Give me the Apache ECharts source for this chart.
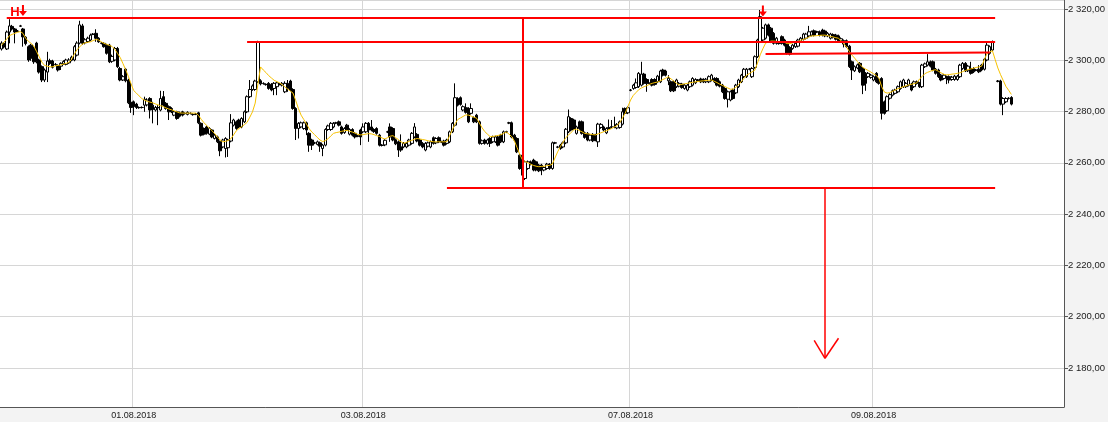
<!DOCTYPE html>
<html>
<head>
<meta charset="utf-8">
<script src="https://cdn.jsdelivr.net/npm/echarts@6/dist/echarts.min.js"></script>
<style>
html, body { margin: 0; padding: 0; background: #f3f3f3; }
#main { width: 1108px; height: 422px; }
</style>
</head>
<body>
<div id="main"></div>
<script>
// 15-min bars, one category slot per bar
const slotCount = 394;
const dayStart = [49, 134, 233, 323];
const dayLabels = ['01.08.2018', '03.08.2018', '07.08.2018', '09.08.2018'];

// [open, close, low, high]
const candles = [
  [2304.4,2306.7,2303.8,2307.4],[2306.6,2305.2,2304.6,2307.0],[2304.4,2311.0,2304.0,2311.6],[2311.0,2313.4,2306.6,2316.0],[2313.2,2312.2,2311.6,2313.8],
  [2312.2,2311.0,2306.6,2312.6],[2311.4,2311.3,2311.0,2311.8],[2313.4,2313.3,2313.0,2313.8],[2312.2,2309.1,2305.3,2312.6],[2309.0,2306.5,2305.8,2309.4],
  [2305.3,2300.1,2299.4,2305.8],[2305.9,2300.8,2299.8,2306.4],[2304.8,2299.4,2298.6,2305.4],[2306.7,2299.4,2298.8,2307.2],[2300.1,2295.4,2294.8,2300.6],
  [2297.5,2292.3,2291.5,2298.0],[2292.3,2296.2,2291.5,2296.8],[2295.4,2299.7,2291.5,2303.3],[2299.8,2298.8,2298.2,2300.6],[2299.7,2297.3,2296.8,2300.2],
  [2298.4,2298.3,2297.9,2298.9],[2297.9,2296.2,2295.6,2298.4],[2297.7,2298.8,2296.2,2299.2],[2298.6,2299.5,2298.2,2300.0],[2298.4,2300.1,2298.0,2300.6],
  [2299.0,2300.1,2298.6,2300.8],[2300.0,2301.2,2299.6,2301.8],[2300.1,2305.3,2299.6,2305.9],[2302.0,2306.7,2301.5,2307.4],[2306.7,2313.8,2306.2,2315.4],
  [2313.4,2306.6,2306.0,2314.2],[2306.8,2308.0,2306.2,2308.6],[2307.3,2308.6,2306.8,2309.2],[2307.9,2309.8,2307.4,2310.4],[2310.2,2310.1,2309.8,2310.6],
  [2310.5,2308.6,2307.2,2312.1],[2308.6,2307.2,2306.8,2309.0],[2306.7,2306.6,2306.2,2307.1],[2306.6,2305.3,2304.9,2307.0],[2305.9,2302.7,2302.2,2306.4],
  [2305.9,2299.4,2298.9,2306.4],[2299.6,2301.5,2299.0,2302.2],[2300.1,2304.6,2299.6,2305.2],[2304.6,2297.5,2297.0,2305.2],[2296.8,2292.3,2291.8,2297.4],
  [2292.3,2293.6,2291.9,2294.2],[2296.5,2292.0,2291.4,2297.0],[2292.3,2283.4,2282.9,2292.8],[2283.6,2281.6,2279.5,2291.5],[2283.8,2281.9,2278.6,2284.3],
  [2282.9,2281.6,2281.0,2283.4],[2281.6,2281.5,2281.1,2282.0],[2281.6,2281.6,2281.2,2282.0],[2282.5,2284.8,2279.9,2285.8],[2282.6,2284.5,2282.0,2285.2],
  [2285.1,2280.6,2277.3,2285.6],[2282.5,2280.8,2275.4,2283.8],[2280.6,2281.6,2280.0,2282.2],[2281.6,2281.5,2274.7,2282.5],[2280.6,2285.1,2280.1,2288.1],
  [2285.8,2282.5,2282.0,2288.0],[2283.2,2281.2,2280.7,2283.7],[2281.9,2279.9,2276.7,2282.4],[2281.2,2279.9,2279.4,2281.7],[2278.6,2279.9,2278.2,2280.4],
  [2279.9,2277.3,2276.8,2280.3],[2279.5,2278.2,2277.7,2280.0],[2279.9,2278.6,2278.1,2280.3],[2279.3,2279.2,2278.8,2279.7],[2278.9,2279.7,2278.5,2280.1],
  [2279.3,2279.3,2278.9,2279.7],[2278.9,2278.8,2278.4,2279.3],[2279.0,2279.0,2278.6,2279.4],[2279.5,2275.6,2275.1,2279.9],[2275.4,2270.8,2270.3,2275.8],
  [2273.4,2271.2,2270.7,2273.8],[2274.0,2271.5,2271.0,2274.5],[2271.2,2273.4,2270.8,2273.9],[2272.8,2270.1,2269.6,2273.2],[2269.5,2270.8,2269.1,2271.3],
  [2270.1,2268.2,2267.7,2270.6],[2268.2,2264.7,2262.6,2268.7],[2266.2,2268.9,2265.7,2269.4],[2265.6,2269.5,2262.1,2270.0],[2265.9,2268.9,2262.3,2269.4],
  [2268.5,2275.6,2268.0,2279.0],[2274.7,2276.7,2274.2,2277.2],[2276.0,2273.4,2272.9,2276.5],[2276.7,2274.0,2273.5,2277.2],[2274.0,2277.3,2273.5,2277.8],
  [2276.0,2279.9,2275.5,2280.4],[2279.9,2285.8,2279.4,2286.3],[2285.8,2288.6,2285.3,2292.3],[2288.6,2290.0,2288.1,2290.6],[2288.6,2291.9,2288.1,2292.4],
  [2291.6,2307.2,2291.1,2307.6],[2292.0,2290.8,2290.2,2292.6],[2291.0,2290.9,2290.5,2291.4],[2290.6,2290.5,2290.1,2291.0],[2291.0,2289.0,2288.5,2291.5],
  [2290.6,2288.4,2287.9,2291.1],[2289.0,2291.0,2286.4,2291.5],[2289.7,2291.2,2286.4,2291.7],[2290.7,2290.6,2290.2,2291.1],[2290.3,2291.0,2289.8,2291.5],
  [2287.7,2291.0,2287.2,2291.8],[2291.0,2289.0,2287.7,2292.3],[2291.9,2288.4,2287.9,2292.4],[2288.6,2281.2,2280.7,2289.1],[2281.2,2273.4,2268.9,2281.7],
  [2273.4,2275.4,2269.5,2275.9],[2274.0,2275.6,2273.5,2276.1],[2273.4,2275.6,2272.9,2276.1],[2275.6,2272.8,2270.8,2276.1],[2271.5,2266.9,2264.3,2272.0],
  [2268.9,2266.9,2265.0,2269.4],[2267.8,2267.7,2267.3,2268.2],[2267.2,2268.2,2266.8,2268.7],[2267.8,2266.5,2264.3,2268.3],[2265.6,2266.9,2262.6,2267.4],
  [2266.9,2273.0,2266.4,2273.5],[2273.0,2274.4,2272.5,2274.9],[2273.0,2275.4,2272.5,2275.9],[2274.0,2275.4,2273.5,2275.9],[2275.6,2275.5,2275.1,2276.0],
  [2276.0,2274.7,2274.2,2276.5],[2274.0,2271.5,2271.0,2274.5],[2271.8,2273.4,2271.3,2273.9],[2274.7,2273.0,2272.5,2275.2],[2271.2,2273.0,2270.7,2273.5],
  [2273.0,2270.8,2270.3,2273.5],[2271.5,2270.1,2269.5,2272.0],[2270.5,2270.4,2270.0,2270.9],[2272.8,2270.1,2266.9,2273.3],[2272.1,2274.0,2271.6,2275.4],
  [2272.1,2275.4,2271.6,2275.9],[2275.4,2272.8,2268.2,2275.9],[2274.0,2272.8,2272.3,2276.7],[2273.0,2272.2,2271.7,2273.5],[2273.4,2271.5,2271.0,2273.9],
  [2270.8,2266.9,2266.4,2271.3],[2266.9,2266.8,2266.4,2267.3],[2267.0,2268.8,2266.5,2269.3],[2272.1,2272.0,2271.6,2272.5],[2274.0,2270.1,2268.2,2275.4],
  [2273.4,2268.9,2268.4,2273.9],[2269.0,2267.4,2266.9,2269.5],[2268.2,2265.0,2262.3,2268.7],[2266.2,2265.0,2264.3,2271.1],[2266.2,2267.6,2265.7,2268.1],
  [2266.2,2267.6,2265.7,2268.1],[2266.9,2268.9,2266.4,2269.4],[2267.6,2271.5,2267.1,2272.0],[2270.1,2274.0,2269.6,2275.5],[2271.1,2268.5,2268.0,2271.6],
  [2268.9,2266.9,2266.4,2269.4],[2267.6,2266.2,2265.7,2268.1],[2265.0,2267.6,2264.5,2268.1],[2266.5,2267.8,2266.0,2268.3],[2266.2,2268.2,2265.7,2268.7],
  [2269.8,2267.6,2267.1,2270.3],[2267.8,2269.5,2267.3,2270.0],[2269.8,2268.2,2267.7,2270.3],[2268.2,2268.1,2267.7,2268.6],[2268.5,2266.9,2266.4,2269.0],
  [2267.6,2268.9,2267.1,2269.4],[2268.2,2272.1,2267.7,2272.6],[2272.1,2275.4,2271.6,2275.9],[2274.7,2285.4,2274.2,2291.0],[2285.1,2282.5,2282.0,2285.6],
  [2285.4,2282.8,2282.3,2285.9],[2280.6,2281.9,2280.1,2282.4],[2281.5,2279.7,2279.2,2283.2],[2281.2,2276.0,2275.5,2281.7],[2279.3,2281.2,2278.8,2283.2],
  [2277.6,2276.0,2275.5,2278.1],[2278.6,2276.0,2275.5,2279.1],[2276.0,2267.6,2267.1,2276.5],[2267.6,2268.6,2267.1,2269.1],[2268.9,2267.6,2267.1,2269.4],
  [2267.6,2268.9,2267.1,2269.4],[2269.5,2267.6,2266.2,2270.0],[2268.2,2270.1,2267.7,2270.6],[2268.2,2270.1,2267.7,2270.6],[2270.1,2266.9,2266.4,2270.6],
  [2270.8,2268.2,2267.7,2271.3],[2268.2,2272.1,2267.7,2272.6],[2272.1,2272.0,2271.6,2272.5],[2275.6,2275.5,2275.1,2276.0],[2275.6,2270.1,2269.6,2276.1],
  [2270.8,2268.9,2268.4,2271.3],[2269.5,2264.3,2263.8,2270.0],[2263.0,2257.8,2257.3,2263.5],[2257.8,2255.2,2250.1,2258.3],[2253.9,2260.4,2253.3,2260.9],
  [2257.8,2260.4,2257.3,2260.9],[2260.4,2259.5,2259.0,2260.9],[2261.1,2257.2,2256.7,2261.6],[2260.4,2257.2,2256.7,2260.9],[2259.1,2256.9,2256.4,2259.6],
  [2259.1,2257.2,2255.2,2259.6],[2257.2,2258.2,2256.7,2258.7],[2257.8,2259.5,2257.3,2260.0],[2259.4,2257.8,2257.3,2259.9],[2257.8,2267.8,2257.3,2268.3],
  [2267.8,2267.7,2267.3,2268.2],[2266.2,2266.1,2265.7,2266.6],[2266.9,2265.6,2265.1,2267.4],[2266.2,2267.8,2265.7,2268.3],[2267.8,2273.1,2267.3,2273.6],
  [2272.1,2278.0,2271.6,2280.8],[2277.3,2272.8,2272.3,2277.8],[2276.7,2273.4,2272.9,2277.2],[2271.5,2274.0,2271.0,2274.5],[2276.0,2273.4,2272.9,2276.5],
  [2276.0,2271.5,2271.0,2276.5],[2271.7,2269.9,2269.4,2272.2],[2271.5,2268.9,2268.4,2272.0],[2268.9,2270.8,2268.4,2271.3],[2271.1,2268.6,2268.1,2271.6],
  [2270.8,2268.9,2268.4,2271.3],[2268.2,2275.1,2266.2,2275.6],[2273.8,2275.0,2273.3,2275.5],[2274.0,2272.8,2272.3,2274.5],[2271.7,2273.4,2271.2,2273.9],
  [2273.4,2273.8,2273.0,2276.9],[2274.0,2274.1,2273.5,2276.7],[2274.0,2274.0,2273.5,2278.0],[2273.6,2275.0,2273.1,2275.5],[2273.8,2276.0,2273.3,2276.5],
  [2275.1,2279.9,2274.6,2281.5],[2281.2,2279.3,2278.8,2281.6],[2279.5,2281.5,2279.0,2282.0],[2288.4,2288.3,2287.9,2288.8],[2289.0,2290.3,2288.5,2290.8],
  [2289.4,2291.2,2288.9,2292.9],[2289.7,2294.9,2289.2,2295.4],[2290.3,2294.6,2289.8,2299.4],[2294.6,2291.0,2290.5,2295.1],[2292.5,2291.0,2287.7,2293.0],
  [2291.0,2290.9,2290.5,2291.4],[2292.5,2290.3,2289.8,2293.0],[2292.5,2290.6,2290.1,2293.0],[2291.6,2293.8,2291.1,2294.3],[2291.6,2295.8,2291.1,2296.3],
  [2296.2,2294.2,2293.7,2296.7],[2295.8,2294.2,2293.7,2296.3],[2292.0,2293.0,2290.3,2294.2],[2291.6,2288.1,2287.6,2292.1],[2291.6,2288.1,2287.6,2292.1],
  [2289.7,2292.3,2289.2,2292.8],[2289.9,2291.0,2289.4,2291.5],[2290.7,2289.4,2288.9,2291.2],[2289.0,2290.3,2288.5,2290.8],[2288.4,2290.3,2287.9,2290.8],
  [2289.7,2291.6,2289.2,2292.1],[2290.3,2292.9,2289.8,2293.4],[2291.2,2292.5,2290.7,2293.0],[2292.3,2292.2,2291.8,2292.7],[2292.7,2291.6,2291.1,2293.2],
  [2292.5,2291.6,2291.1,2293.0],[2291.6,2292.6,2291.1,2293.1],[2291.6,2293.6,2291.1,2294.1],[2292.3,2294.2,2291.8,2294.7],[2292.9,2291.6,2291.1,2293.4],
  [2292.9,2290.3,2289.8,2293.4],[2291.6,2289.9,2289.4,2292.1],[2290.3,2287.7,2287.2,2290.8],[2289.0,2285.1,2284.6,2289.5],[2284.8,2287.7,2281.6,2288.2],
  [2284.5,2287.7,2284.0,2288.2],[2288.4,2285.1,2284.6,2288.9],[2287.3,2290.3,2286.8,2290.8],[2289.7,2292.3,2289.2,2292.8],[2291.6,2294.2,2291.1,2294.7],
  [2293.6,2296.5,2293.1,2297.0],[2293.6,2296.5,2293.1,2297.0],[2296.6,2296.5,2296.1,2297.0],[2293.6,2296.8,2293.1,2297.3],[2297.2,2301.4,2296.7,2301.9],
  [2301.4,2307.9,2300.9,2308.4],[2307.2,2317.0,2306.7,2319.6],[2307.9,2312.5,2307.4,2313.0],[2308.6,2313.8,2308.1,2314.3],[2313.8,2309.8,2309.3,2314.3],
  [2312.5,2307.2,2306.7,2313.0],[2310.5,2306.6,2306.1,2311.0],[2306.6,2308.6,2306.1,2309.1],[2306.6,2306.5,2306.1,2307.0],[2309.2,2306.6,2306.1,2309.7],
  [2307.9,2305.9,2305.4,2308.4],[2306.6,2302.7,2302.2,2307.1],[2305.0,2302.4,2301.9,2305.5],[2304.6,2305.9,2304.1,2306.4],[2305.3,2306.6,2304.8,2307.1],
  [2305.5,2307.9,2305.0,2308.4],[2307.4,2308.6,2306.9,2309.1],[2308.2,2310.2,2307.7,2310.7],[2308.6,2310.2,2308.1,2310.7],[2309.5,2311.1,2309.0,2313.4],
  [2309.8,2311.1,2309.3,2311.6],[2311.5,2309.8,2309.3,2312.0],[2311.1,2311.0,2310.6,2311.5],[2311.1,2309.8,2309.3,2311.6],[2311.8,2309.8,2309.3,2312.3],
  [2311.4,2309.5,2309.0,2311.9],[2309.5,2310.5,2309.0,2311.0],[2308.6,2310.2,2308.1,2310.7],[2310.0,2309.0,2308.5,2310.5],[2309.8,2308.2,2307.7,2310.3],
  [2309.5,2307.6,2307.1,2310.0],[2307.6,2308.4,2307.1,2308.9],[2306.3,2307.6,2305.0,2308.1],[2307.6,2305.3,2304.8,2308.1],[2305.5,2297.5,2297.0,2306.0],
  [2299.4,2296.2,2292.3,2299.9],[2295.9,2297.5,2295.4,2298.0],[2297.0,2298.2,2296.5,2298.7],[2298.8,2295.5,2295.0,2299.3],[2296.8,2290.3,2286.8,2297.3],
  [2294.9,2291.0,2288.1,2295.4],[2293.6,2294.9,2293.1,2295.4],[2293.3,2294.2,2292.8,2294.7],[2292.3,2293.6,2291.8,2294.1],[2294.9,2291.6,2291.1,2295.4],
  [2292.5,2291.0,2290.5,2293.0],[2292.9,2279.3,2276.9,2293.4],[2283.8,2279.3,2278.8,2284.3],[2280.3,2285.8,2279.8,2286.3],[2285.2,2286.6,2284.7,2287.1],
  [2286.4,2288.1,2285.9,2288.6],[2287.1,2288.4,2286.6,2288.9],[2287.7,2289.7,2287.2,2290.2],[2289.0,2291.6,2288.5,2292.1],[2289.7,2292.3,2289.2,2292.8],
  [2289.7,2291.0,2289.2,2291.5],[2290.3,2292.3,2289.8,2292.8],[2290.7,2288.4,2287.9,2291.2],[2289.7,2291.6,2289.2,2292.1],[2291.6,2291.0,2290.5,2292.1],
  [2291.0,2289.7,2289.2,2291.5],[2289.7,2298.1,2289.2,2298.6],[2297.5,2298.6,2297.0,2299.1],[2298.1,2299.4,2297.6,2302.4],[2299.4,2297.7,2297.2,2299.9],
  [2299.4,2296.2,2295.7,2299.9],[2296.5,2294.9,2294.4,2297.0],[2296.2,2293.6,2293.1,2296.7],[2294.2,2292.3,2291.8,2294.7],[2292.9,2294.2,2292.4,2294.7],
  [2293.6,2293.5,2290.7,2294.0],[2293.6,2292.3,2291.0,2294.1],[2292.5,2293.4,2292.0,2293.9],[2292.5,2293.8,2292.0,2294.3],[2292.5,2293.8,2292.0,2294.3],
  [2293.6,2298.1,2293.1,2298.6],[2296.8,2298.8,2296.3,2299.3],[2298.8,2295.9,2295.4,2299.3],[2295.9,2297.7,2295.4,2298.2],[2296.8,2294.9,2294.4,2299.4],
  [2296.8,2295.5,2295.0,2297.3],[2296.2,2296.1,2295.7,2296.6],[2296.5,2295.5,2295.0,2298.1],[2298.1,2296.2,2295.7,2298.6],[2296.5,2300.4,2296.0,2300.9],
  [2300.1,2305.9,2299.6,2307.5],[2302.7,2305.3,2302.2,2305.8],[2304.0,2307.2,2303.5,2307.7],['-','-','-','-'],[2291.9,2291.8,2291.4,2292.3],
  [2291.9,2282.9,2282.4,2292.4],[2282.9,2285.1,2278.6,2285.6],[2283.8,2285.1,2283.3,2285.6],[2285.2,2285.1,2284.7,2285.6],[2285.5,2282.9,2282.4,2286.0]
];

// yellow moving average as drawn on the chart
const maValues = [
  2305.8,2307.1,2308.3,2309.6,2310.1,2310.5,2310.9,2311.2,2310.5,2308.6,
  2307.4,2306.6,2305.6,2303.5,2301.4,2299.3,2298.0,2297.7,2297.4,2297.5,
  2297.8,2298.0,2298.2,2298.5,2298.8,2299.2,2300.4,2302.3,2304.1,2305.2,
  2306.3,2306.8,2307.0,2307.2,2307.7,2308.1,2307.9,2307.2,2306.6,2306.2,
  2305.8,2305.4,2304.3,2302.7,2301.1,2298.8,2296.4,2293.8,2290.9,2288.2,
  2287.2,2286.1,2285.1,2284.4,2284.0,2283.7,2283.4,2283.0,2282.6,2282.3,
  2281.9,2281.4,2281.0,2280.7,2280.3,2279.9,2279.5,2279.4,2279.4,2279.4,
  2279.4,2279.4,2279.4,2278.5,2277.0,2275.7,2274.6,2273.6,2272.5,2271.4,
  2270.1,2268.9,2268.2,2268.4,2268.7,2269.4,2270.9,2272.5,2273.4,2274.1,
  2274.9,2275.8,2277.8,2279.9,2283.3,2290.7,2297.4,2296.2,2295.2,2294.0,
  2293.1,2292.2,2291.7,2291.2,2290.5,2289.6,2288.8,2288.0,2287.2,2284.3,
  2281.2,2278.6,2276.9,2275.1,2273.3,2272.0,2271.0,2269.9,2268.9,2268.3,
  2268.7,2269.4,2270.5,2271.5,2271.8,2272.0,2272.3,2272.5,2272.7,2272.3,
  2272.0,2271.6,2271.1,2270.9,2271.0,2271.2,2271.4,2271.3,2271.0,2270.6,
  2270.3,2269.7,2269.3,2269.8,2270.4,2270.6,2269.8,2269.1,2268.2,2267.6,
  2268.0,2268.4,2268.8,2269.2,2269.5,2269.3,2269.1,2268.9,2268.6,2268.4,
  2268.2,2268.2,2268.2,2268.2,2268.2,2268.3,2270.6,2272.9,2275.2,2276.9,
  2277.5,2278.1,2278.7,2278.6,2278.2,2277.8,2277.4,2275.5,2273.7,2272.2,
  2271.2,2270.2,2270.3,2270.5,2270.7,2271.0,2271.5,2272.0,2271.2,2270.2,
  2268.5,2265.9,2263.2,2261.1,2260.5,2260.0,2259.5,2259.0,2258.7,2258.5,
  2258.6,2258.7,2258.9,2259.0,2259.5,2261.9,2264.3,2266.3,2268.1,2269.8,
  2270.8,2271.9,2272.9,2273.2,2272.6,2272.1,2271.5,2271.3,2271.2,2271.0,
  2270.9,2271.3,2271.7,2272.1,2272.5,2272.9,2273.4,2274.0,2274.5,2275.7,
  2277.5,2279.3,2281.9,2284.5,2286.3,2287.4,2288.5,2289.2,2289.7,2290.1,
  2290.6,2291.0,2291.3,2291.5,2292.0,2292.5,2293.0,2293.6,2292.7,2291.9,
  2291.0,2290.4,2290.6,2290.8,2291.0,2291.2,2291.4,2291.6,2291.7,2291.9,
  2292.0,2292.1,2292.2,2292.3,2291.8,2291.3,2290.7,2290.2,2289.7,2289.2,
  2288.7,2288.8,2289.5,2290.4,2291.7,2292.9,2294.2,2294.8,2295.5,2296.1,
  2298.9,2302.1,2304.5,2306.7,2307.1,2307.5,2307.5,2307.4,2307.3,2307.2,
  2307.0,2306.5,2306.5,2306.8,2307.1,2307.3,2307.8,2308.1,2308.5,2309.0,
  2309.5,2309.5,2309.6,2309.7,2309.8,2309.8,2309.6,2309.3,2309.1,2308.8,
  2308.6,2307.5,2306.4,2305.1,2303.5,2302.0,2300.8,2299.5,2298.3,2297.2,
  2296.6,2296.0,2295.4,2294.7,2294.1,2292.9,2289.7,2287.6,2287.2,2287.4,
  2287.9,2288.4,2288.9,2289.3,2289.7,2290.0,2290.4,2290.6,2290.9,2291.2,
  2292.7,2293.7,2294.8,2295.3,2295.7,2296.1,2296.3,2295.7,2295.1,2294.5,
  2294.3,2294.4,2294.6,2294.7,2294.9,2295.1,2295.6,2296.0,2296.4,2296.6,
  2296.9,2297.2,2297.4,2297.7,2300.2,2302.7,2303.2,2303.7,2300.3,2297.0,
  2294.4,2292.1,2289.8,2288.3,2286.7
];

// drawn levels, [slot, price] pairs
const levelLines = [
  [[2, 2316.5], [368, 2316.5]],
  [[91, 2307.4], [368, 2307.4]],
  [[283, 2302.4], [366, 2303.0]],
  [[165, 2250.1], [368, 2250.1]],
  [[193, 2316.5], [193, 2250.1]]
];
const targetArrow = [
  [[305, 2250.1], [305, 2183.8]],
  [[301, 2190.8], [305, 2183.8]],
  [[310, 2191.6], [305, 2183.8]]
];
const signalArrows = [[8, 2319.4], [282, 2319.2]];
const signalLetter = [5, 2318.6];

const categories = [];
for (let i = 0; i < slotCount; i++) {
  const k = dayStart.indexOf(i);
  categories.push(k >= 0 ? dayLabels[k] : 't' + i);
}
const isDayStart = function (idx) { return dayStart.indexOf(idx) >= 0; };

function priceLabel(v) {
  const parts = v.toFixed(2).split('.');
  return parts[0].replace(/\B(?=(\d{3})+(?!\d))/g, ' ') + ',' + parts[1];
}

const labelFont = "'Liberation Sans', Arial, sans-serif";
const red = '#ff0000';
const arrowPath = 'path://M3,0 L5,0 L5,6 L8,6 L4,11 L0,6 L3,6 Z';

const lineData = levelLines.map(function (l) {
  return [{ coord: l[0] }, { coord: l[1] }];
}).concat(targetArrow.map(function (l) {
  return [{ coord: l[0], lineStyle: { width: 1.5 } }, { coord: l[1] }];
}));

const pointData = signalArrows.map(function (c) {
  return { coord: c, symbol: arrowPath, symbolSize: [8, 11], itemStyle: { color: red }, label: { show: false } };
});
pointData.push({
  coord: signalLetter, symbol: 'circle', symbolSize: 1,
  itemStyle: { color: 'rgba(0,0,0,0)' },
  label: { show: true, formatter: 'H', position: 'inside', color: red, fontSize: 13, fontWeight: 'bold', fontFamily: 'Liberation Sans' }
});

const chart = echarts.init(document.getElementById('main'));
chart.setOption({
  animation: false,
  backgroundColor: '#f3f3f3',
  grid: {
    left: 0, right: 44, top: 0, bottom: 15,
    outerBoundsMode: 'none', containLabel: false,
    show: true, backgroundColor: '#ffffff', borderWidth: 0
  },
  xAxis: {
    type: 'category',
    data: categories,
    boundaryGap: true,
    axisLine: { lineStyle: { color: '#555555', width: 1 } },
    axisTick: { interval: isDayStart, length: 3, lineStyle: { color: '#555555' } },
    axisLabel: { interval: isDayStart, color: '#1a1a1a', fontSize: 9, fontFamily: labelFont, margin: 4 },
    splitLine: { show: true, interval: isDayStart, lineStyle: { color: '#d6d6d6', width: 1 } }
  },
  yAxis: {
    type: 'value',
    position: 'right',
    min: 2164.8,
    max: 2323.5,
    splitNumber: 8,
    axisLine: { show: true, lineStyle: { color: '#555555' } },
    axisTick: { show: true, length: 4, lineStyle: { color: '#555555' } },
    axisLabel: { showMinLabel: false, showMaxLabel: false, formatter: priceLabel, color: '#1a1a1a', fontSize: 9.5, fontFamily: labelFont, margin: 4 },
    splitLine: { lineStyle: { color: '#d6d6d6', width: 1 } }
  },
  series: [
    {
      type: 'candlestick',
      data: candles,
      barWidth: 3,
      silent: true,
      itemStyle: { color: '#ffffff', color0: '#000000', borderColor: '#000000', borderColor0: '#000000', borderWidth: 1 },
      markLine: {
        silent: true,
        symbol: ['none', 'none'],
        label: { show: false },
        lineStyle: { color: red, width: 2, type: 'solid' },
        data: lineData
      },
      markPoint: { silent: true, data: pointData }
    },
    {
      type: 'line',
      data: maValues,
      showSymbol: false,
      symbol: 'none',
      silent: true,
      z: 3,
      lineStyle: { color: '#f7c200', width: 1 }
    }
  ]
});
</script>
</body>
</html>
